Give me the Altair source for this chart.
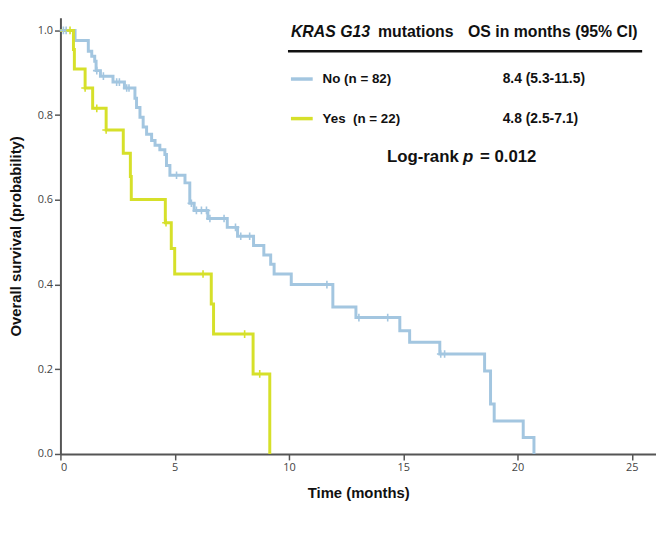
import altair as alt
import pandas as pd

# ---- data ----
groups = ["No", "Yes"]

no_time = [0, 0.64, 1.22, 1.37, 1.5, 1.56, 1.75, 2.3, 2.8, 3.26, 3.33, 3.48, 3.62, 3.77,
           3.99, 4.14, 4.35, 4.57, 4.64, 4.79, 5.45, 5.66, 5.85, 6.45, 7.3, 7.75, 8.45,
           8.9, 9.2, 9.35, 10.1, 11.92, 12.93, 14.85, 15.28, 16.6, 18.56, 18.82, 18.98,
           20.25, 20.72]
no_surv = [1.0, 0.976, 0.951, 0.939, 0.927, 0.905, 0.892, 0.878, 0.864, 0.84, 0.818,
           0.795, 0.772, 0.755, 0.74, 0.729, 0.718, 0.707, 0.681, 0.658, 0.64, 0.592,
           0.575, 0.556, 0.535, 0.514, 0.492, 0.47, 0.448, 0.425, 0.40, 0.347, 0.322,
           0.291, 0.264, 0.236, 0.196, 0.118, 0.078, 0.039, 0.0]

yes_time = [0, 0.57, 0.61, 1.08, 1.41, 2.0, 2.75, 3.06, 3.1, 4.59, 4.85, 5.0, 6.6, 6.7,
            8.43, 9.16]
yes_surv = [1.0, 0.955, 0.909, 0.864, 0.816, 0.765, 0.710, 0.655, 0.601, 0.546, 0.485,
            0.425, 0.354, 0.283, 0.189, 0.0]

no_cens_time = [0.13, 0.25, 1.59, 1.88, 2.46, 2.58, 2.9, 3.0, 5.08, 5.73, 5.95, 6.17,
                6.39, 6.54, 7.16, 7.66, 7.89, 8.28, 11.66, 13.06, 14.32, 16.64, 16.81]
no_cens_surv = [1.0, 1.0, 0.905, 0.892, 0.878, 0.878, 0.864, 0.864, 0.658, 0.592, 0.575,
                0.575, 0.575, 0.556, 0.556, 0.535, 0.514, 0.514, 0.40, 0.322, 0.322,
                0.236, 0.236]

yes_cens_time = [0.42, 1.08, 1.59, 2.0, 4.62, 6.24, 8.06, 8.72]
yes_cens_surv = [1.0, 0.864, 0.816, 0.765, 0.546, 0.425, 0.283, 0.189]

legend_labels = ["No (n = 82)", "Yes\u00a0 (n = 22)"]
legend_os = ["8.4 (5.3-11.5)", "4.8 (2.5-7.1)"]
header_italic = "KRAS G13"
header_rest = "mutations"
header_os = "OS in months (95% CI)"
logrank_parts = ["Log-rank", "p", "= 0.012"]

x_ticks = [0, 5, 10, 15, 20, 25]
y_ticks = [0.0, 0.2, 0.4, 0.6, 0.8, 1.0]

line_colors = ["#a3c6e0", "#d6e02a"]
mark_colors = ["#22407f", "#2f8f35"]

# ---- tables ----
curves = pd.concat([
    pd.DataFrame({"t": no_time, "s": no_surv, "group": "No"}),
    pd.DataFrame({"t": yes_time, "s": yes_surv, "group": "Yes"}),
])
censors = pd.concat([
    pd.DataFrame({"t": no_cens_time, "s": no_cens_surv, "group": "No"}),
    pd.DataFrame({"t": yes_cens_time, "s": yes_cens_surv, "group": "Yes"}),
])

xscale = alt.Scale(domain=[0, 26.06], nice=False, zero=False)
yscale = alt.Scale(domain=[0, 1.03], nice=False)

axis_common = dict(grid=False, domainColor="#555555", domainWidth=2, tickColor="#555555",
                   tickWidth=1.5, tickSize=6, labelColor="#444444", labelFont="Open Sans",
                   labelFontSize=11, labelPadding=2, titleFont="Liberation Sans",
                   titleFontSize=15, titleFontWeight="bold", titleColor="#111111")

x_enc = alt.X("t:Q", scale=xscale,
              axis=alt.Axis(values=x_ticks, format="d", title="Time (months)",
                            titlePadding=13, **axis_common))
y_enc = alt.Y("s:Q", scale=yscale,
              axis=alt.Axis(values=y_ticks, format=".1f", title="Overall survival (probability)",
                            titlePadding=14, **axis_common))

lines = alt.Chart(curves).mark_line(interpolate="step-after", strokeWidth=3).encode(
    x=x_enc, y=y_enc,
    color=alt.Color("group:N", scale=alt.Scale(domain=groups, range=line_colors), legend=None),
)

cross = "M-1,0L1,0M0,-1L0,1"
marks = alt.Chart(censors).mark_point(shape=cross, filled=False, strokeWidth=1.6, size=60,
                                      opacity=1).encode(
    x="t:Q", y="s:Q",
    color=alt.Color("group:N", scale=alt.Scale(domain=groups, range=mark_colors), legend=None),
)

one = pd.DataFrame({"k": [0]})
FONT = "Liberation Sans"


def txt(s, x, y, size=14, italic=False):
    return alt.Chart(one).mark_text(
        align="left", baseline="middle", font=FONT, fontSize=size, fontWeight="bold",
        fontStyle="italic" if italic else "normal", color="#111111",
    ).encode(x=alt.value(x), y=alt.value(y), text=alt.value(s))


layers = [lines, marks]
# header
layers.append(txt(header_italic, 233, 15, 16, italic=True))
layers.append(txt(header_rest, 321, 15, 16))
layers.append(txt(header_os, 412, 15, 16))
layers.append(alt.Chart(one).mark_rule(color="#111111", strokeWidth=2.5).encode(
    x=alt.value(230), x2=alt.value(588), y=alt.value(34)))
# rows
row_y = [62, 102]
for i in range(2):
    layers.append(alt.Chart(one).mark_rule(color=line_colors[i], strokeWidth=3.5).encode(
        x=alt.value(233), x2=alt.value(255), y=alt.value(row_y[i])))
    layers.append(txt(legend_labels[i], 265, row_y[i], 13.5))
    layers.append(txt(legend_os[i], 447, row_y[i], 14))
# log-rank
layers.append(txt(logrank_parts[0], 330, 141, 17))
layers.append(txt(logrank_parts[1], 407, 141, 17, italic=True))
layers.append(txt(logrank_parts[2], 424, 141, 17))

chart = alt.layer(*layers).properties(
    width=602, height=441,
    autosize="none",
    padding={"left": 53, "top": 7, "right": 0, "bottom": 70},
).configure_view(stroke=None)

chart.save("out.html", embed_options={"renderer": "svg", "actions": False})
